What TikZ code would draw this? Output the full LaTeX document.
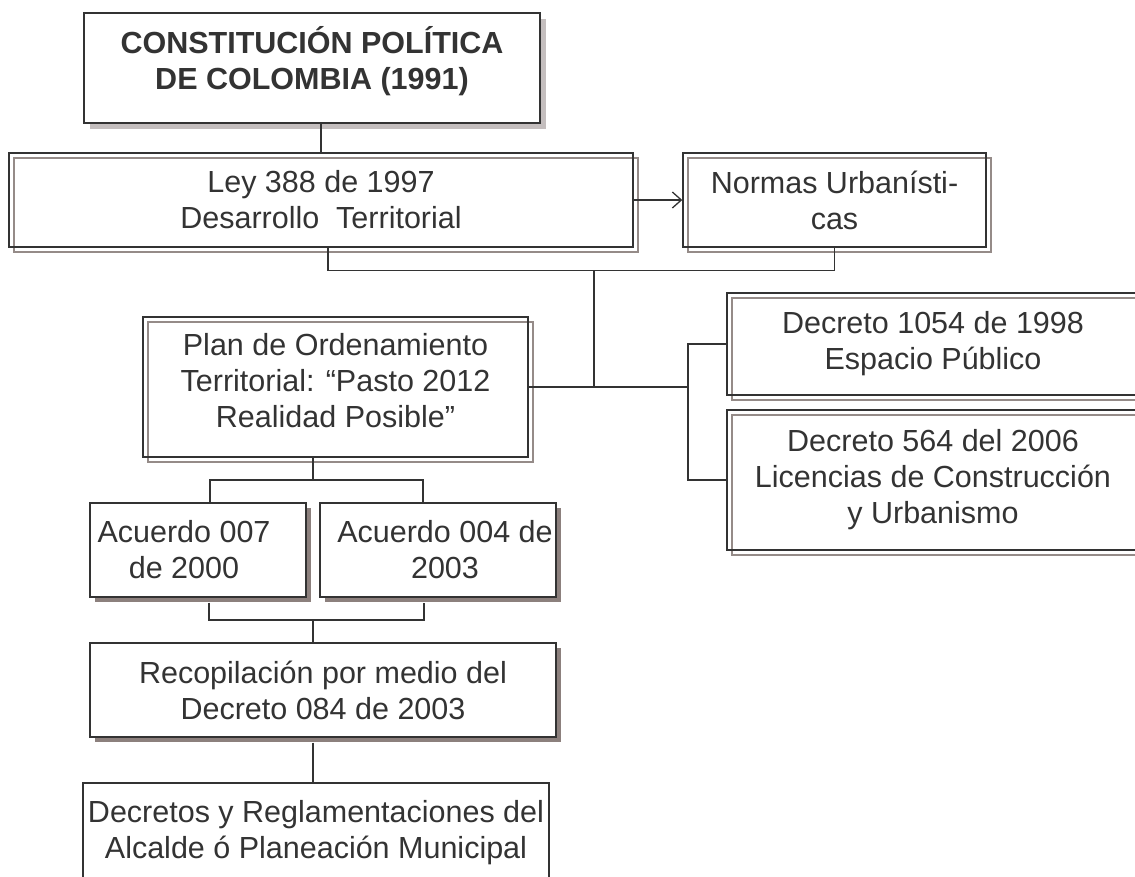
\documentclass[tikz,border=0pt]{standalone}
\usepackage{fontspec}
\setmainfont{Liberation Sans}
\usetikzlibrary{shadows,arrows.meta,calc}
\definecolor{ink}{HTML}{333333}
\definecolor{dblgray}{HTML}{958B88}
\definecolor{shdark}{HTML}{8C807D}
\definecolor{shlight}{HTML}{C4BEBE}
\tikzset{
  box/.style={draw=ink, line width=1.4pt, rectangle, inner sep=0pt, align=center,
    text=ink, font=\fontsize{30.5}{36}\selectfont},
  dbl/.style={box, general shadow={shadow xshift=5pt, shadow yshift=-5pt, draw=dblgray, line width=1.4pt, fill=none}},
  shd/.style={box, fill=white, general shadow={shadow xshift=5pt, shadow yshift=-5pt, fill=shdark, draw=none}},
  hshd/.style={box, fill=white, general shadow={shadow xshift=6pt, shadow yshift=-6pt, fill=shlight, draw=none}},
  conn/.style={draw=ink, line width=1.3pt},
}
\begin{document}
\begin{tikzpicture}[x=1pt,y=-1pt]
\useasboundingbox (0,0) rectangle (1135,876);

\node[hshd, minimum width=456pt, minimum height=110pt, text depth=20pt,
      font=\bfseries\fontsize{30.5}{36}\selectfont] (top) at (312,68)
  {CONSTITUCIÓN POLÍTICA\\DE COLOMBIA (1991)};
\node[dbl, minimum width=624pt, minimum height=94pt] (ley) at (321,200)
  {Ley 388 de 1997\\Desarrollo\ \ Territorial};
\node[dbl, minimum width=303pt, minimum height=94pt] (normas) at (834.5,200)
  {Normas Urbanísti-\\cas};
\node[dbl, minimum width=385pt, minimum height=140pt, text depth=13pt] (plan) at (335.5,387)
  {Plan de Ordenamiento\\Territorial: “Pasto 2012\\Realidad Posible”};
\node[dbl, minimum width=412pt, minimum height=102pt] (d1) at (933,344)
  {Decreto 1054 de 1998\\Espacio Público};
\node[dbl, minimum width=412pt, minimum height=140pt] (d2) at (933,480)
  {Decreto 564 del 2006\\Licencias de Construcción\\y Urbanismo};
\node[shd, minimum width=216pt, minimum height=94pt] (a1) at (198,550)
  {Acuerdo 007\hspace*{28pt}\\de 2000\hspace*{28pt}};
\node[shd, minimum width=236pt, minimum height=94pt] (a2) at (438,550)
  {\hspace*{14pt}Acuerdo 004 de\\\hspace*{14pt}2003};
\node[shd, minimum width=466pt, minimum height=94pt] (rec) at (323,690)
  {Recopilación por medio del\\Decreto 084 de 2003};
\node[box, fill=white, minimum width=466pt, minimum height=100pt] (bot) at (316,833)
  {Decretos y Reglamentaciones del\\Alcalde ó Planeación Municipal};

\coordinate (j1) at (594,270);
\coordinate (br) at (688,387);
\coordinate (pj) at (313,480);
\coordinate (ab) at (210,480);
\coordinate (ac) at (423,480);
\coordinate (bb) at (209,620);
\coordinate (bc) at (424,620);
\coordinate (rc) at (313,620);

\draw[conn] (ley.north) -- (ley.north |- top.south);
\draw[conn, -{Straight Barb[length=9pt,width=16pt]}] (ley.east) -- (normas.west);
\draw[conn] ([xshift=7pt]ley.south) -- ++(0,23) -| (normas.south);
\draw[conn] (j1) -- (j1 |- plan.east);
\draw[conn] (plan.east) -- (br);
\draw[conn] (d1.west) -| (br) |- (d2.west);
\draw[conn] (pj |- plan.south) -- (pj);
\draw[conn] (ab |- a1.north) |- (ac) -- (ac |- a2.north);
\draw[conn] ($(bb |- a1.south)+(0,5)$) |- (bc) -- ($(bc |- a2.south)+(0,5)$);
\draw[conn] (rc) -- (rc |- rec.north);
\draw[conn] ($(rc |- rec.south)+(0,5)$) -- (rc |- bot.north);
\end{tikzpicture}
\end{document}
